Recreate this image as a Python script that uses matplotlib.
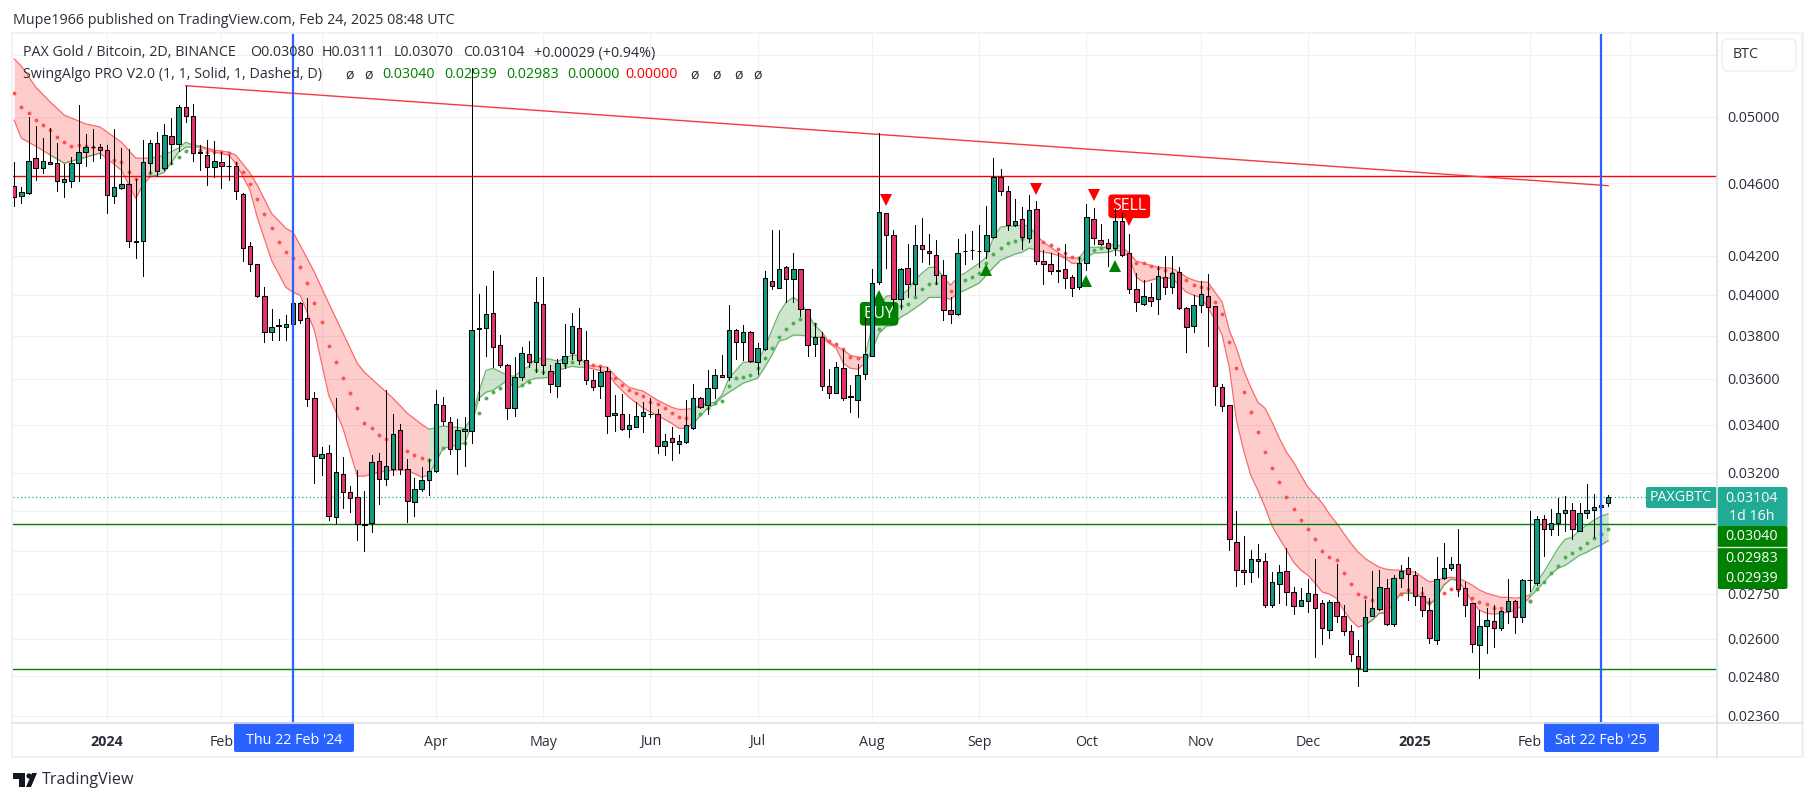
import matplotlib
matplotlib.use("Agg")
import matplotlib.pyplot as plt
from matplotlib.patches import Rectangle, FancyBboxPatch, Polygon, Circle

plt.rcParams["font.family"] = ["Open Sans", "DejaVu Sans"]

# PAXGBTC 2D candles
opens = [.04587,.04527,.04545,.04745,.04690,.04727,.04721,.04610,.04614,.04721,.04783,.04811,.04811,.04793,.04525,.04571,.04593,.04278,.04281,.04721,
.04841,.04687,.04881,.04829,.05059,.05003,.04782,.04767,.04692,.04727,.04700,.04702,.04541,.04250,.04155,.03996,.03820,.03847,.03844,.03854,
.03957,.03883,.03517,.03262,.03279,.03028,.03194,.03126,.03106,.03001,.03006,.03246,.03174,.03216,.03375,.03214,.03087,.03138,.03170,.03206,
.03486,.03411,.03299,.03371,.03373,.03835,.03839,.03912,.03754,.03663,.03473,.03610,.03712,.03677,.03953,.03638,.03569,.03672,.03717,.03839,
.03688,.03593,.03567,.03634,.03442,.03447,.03381,.03390,.03437,.03445,.03443,.03310,.03345,.03320,.03327,.03387,.03517,.03484,.03559,.03619,
.03609,.03829,.03771,.03820,.03677,.03738,.04072,.04035,.04144,.04081,.04129,.03929,.03762,.03792,.03570,.03537,.03651,.03522,.03508,.03622,
.03705,.04065,.04431,.04309,.03980,.04139,.04052,.04260,.04228,.04207,.04098,.03926,.03905,.04226,.04233,.04227,.04226,.04301,.04639,.04558,
.04363,.04396,.04295,.04456,.04175,.04160,.04124,.04129,.04088,.04040,.04165,.04401,.04287,.04266,.04239,.04385,.04213,.04027,.03955,.03987,
.03977,.04091,.04037,.04118,.03936,.03849,.03950,.03995,.03943,.03564,.03483,.02936,.02835,.02825,.02874,.02867,.02713,.02785,.02829,.02758,
.02709,.02727,.02748,.02720,.02627,.02723,.02673,.02624,.02543,.02495,.02675,.02698,.02769,.02649,.02806,.02839,.02814,.02741,.02696,.02597,
.02806,.02839,.02853,.02769,.02717,.02578,.02640,.02657,.02634,.02693,.02727,.02670,.02797,.02789,.03022,.02981,.03004,.03045,.03053,.02977,
.03042,.03053,.03068,.03080]
highs = [.04723,.04577,.05000,.04942,.04871,.04927,.04835,.04715,.04755,.05072,.04892,.04921,.04831,.04823,.04921,.04807,.04799,.04624,.04855,.04855,
.04904,.04955,.04994,.05072,.05199,.05080,.04825,.04859,.04849,.04782,.04765,.04725,.04545,.04274,.04157,.04038,.03928,.03880,.03899,.03973,
.03965,.03982,.03542,.03304,.03313,.03513,.03263,.03147,.03211,.03127,.03274,.03281,.03552,.03447,.03401,.03258,.03178,.03222,.03258,.03549,
.03520,.03430,.03422,.03430,.05313,.04003,.04043,.04120,.03803,.03670,.03700,.03749,.03775,.04091,.04091,.03662,.03693,.03855,.03912,.03936,
.03821,.03639,.03654,.03654,.03527,.03534,.03447,.03497,.03497,.03513,.03468,.03359,.03390,.03357,.03505,.03575,.03520,.03639,.03647,.03709,
.03948,.03834,.03850,.03822,.03764,.04120,.04341,.04337,.04146,.04213,.04134,.03931,.03859,.03818,.03644,.03677,.03732,.03571,.03670,.03891,
.04134,.04902,.04432,.04337,.04136,.04262,.04363,.04405,.04314,.04283,.04177,.03987,.04292,.04314,.04332,.04368,.04469,.04745,.04682,.04583,
.04509,.04465,.04531,.04497,.04230,.04213,.04213,.04262,.04100,.04195,.04481,.04459,.04370,.04292,.04456,.04431,.04314,.04111,.04077,.04060,
.04147,.04198,.04198,.04143,.03938,.03998,.04069,.04108,.03945,.03575,.03485,.03050,.02956,.02905,.02926,.02893,.02825,.02851,.02911,.02775,
.02771,.02803,.02872,.02728,.02728,.02856,.02713,.02645,.02595,.02728,.02830,.02833,.02803,.02815,.02851,.02881,.02831,.02775,.02734,.02879,
.02931,.02881,.02982,.02791,.02717,.02694,.02700,.02711,.02694,.02803,.02730,.02803,.03050,.03031,.03035,.03057,.03102,.03107,.03082,.03082,
.03155,.03118,.03120,.03111]
lows = [.04469,.04485,.04540,.04618,.04660,.04710,.04556,.04522,.04579,.04614,.04702,.04731,.04745,.04434,.04485,.04567,.04247,.04191,.04096,.04657,
.04643,.04676,.04715,.04791,.04969,.04729,.04676,.04591,.04637,.04573,.04618,.04510,.04173,.04121,.03990,.03768,.03779,.03779,.03782,.03842,
.03862,.03478,.03158,.03191,.03016,.03006,.03063,.03048,.02941,.02902,.02971,.03077,.03152,.03191,.03195,.03010,.03031,.03128,.03112,.03203,
.03397,.03276,.03195,.03228,.03322,.03505,.03705,.03654,.03654,.03422,.03435,.03594,.03654,.03631,.03624,.03541,.03520,.03648,.03693,.03668,
.03579,.03549,.03513,.03364,.03373,.03376,.03348,.03388,.03369,.03432,.03281,.03271,.03254,.03281,.03322,.03380,.03473,.03447,.03513,.03607,
.03594,.03693,.03688,.03677,.03621,.03735,.04028,.04033,.03962,.03965,.03894,.03705,.03705,.03552,.03515,.03535,.03508,.03454,.03432,.03600,
.03703,.04057,.04135,.03940,.03931,.03990,.04001,.04167,.04160,.04052,.03875,.03862,.03899,.04160,.04181,.04143,.04191,.04297,.04531,.04337,
.04359,.04235,.04274,.04160,.04054,.04104,.04065,.04032,.03994,.04027,.04125,.04262,.04258,.04147,.04203,.04198,.04010,.03920,.03947,.03945,
.03905,.04003,.04010,.03931,.03724,.03818,.03915,.03751,.03483,.03458,.02906,.02778,.02785,.02791,.02808,.02705,.02705,.02717,.02713,.02680,
.02707,.02688,.02541,.02584,.02601,.02655,.02613,.02529,.02450,.02495,.02675,.02694,.02645,.02641,.02775,.02730,.02713,.02675,.02587,.02581,
.02803,.02835,.02743,.02675,.02558,.02475,.02554,.02572,.02628,.02652,.02617,.02655,.02760,.02780,.02884,.02960,.02962,.02975,.02947,.02975,
.03026,.02953,.03026,.03070]
closes = [.04522,.04549,.04733,.04690,.04733,.04710,.04614,.04622,.04721,.04786,.04811,.04813,.04797,.04535,.04581,.04593,.04281,.04276,.04727,.04841,
.04670,.04885,.04829,.05061,.05003,.04780,.04780,.04692,.04733,.04698,.04698,.04553,.04244,.04155,.03994,.03820,.03844,.03850,.03854,.03957,
.03878,.03510,.03270,.03275,.03032,.03202,.03124,.03102,.03000,.02999,.03242,.03174,.03226,.03358,.03214,.03089,.03138,.03170,.03206,.03490,
.03417,.03299,.03375,.03379,.03829,.03833,.03904,.03749,.03665,.03473,.03610,.03721,.03675,.03965,.03665,.03575,.03672,.03707,.03849,.03688,
.03597,.03564,.03632,.03438,.03451,.03381,.03396,.03438,.03455,.03444,.03311,.03332,.03327,.03329,.03396,.03517,.03476,.03561,.03619,.03609,
.03829,.03771,.03820,.03682,.03740,.04083,.04045,.04134,.04081,.04129,.03931,.03757,.03792,.03568,.03537,.03656,.03515,.03520,.03619,.03712,
.04062,.04440,.04312,.03980,.04134,.04052,.04260,.04237,.04216,.04101,.03926,.03905,.04213,.04224,.04231,.04225,.04309,.04639,.04558,.04366,
.04390,.04301,.04451,.04173,.04158,.04121,.04122,.04086,.04032,.04165,.04407,.04297,.04264,.04239,.04385,.04205,.04027,.03962,.03992,.03970,
.04096,.04037,.04113,.03936,.03842,.03947,.04005,.03941,.03570,.03479,.02947,.02835,.02827,.02871,.02867,.02713,.02792,.02825,.02758,.02709,
.02730,.02752,.02703,.02634,.02723,.02673,.02624,.02549,.02505,.02670,.02700,.02772,.02649,.02806,.02829,.02818,.02741,.02696,.02601,.02803,
.02839,.02856,.02765,.02713,.02582,.02640,.02660,.02634,.02690,.02727,.02670,.02799,.02799,.03022,.02981,.03007,.03042,.03053,.02981,.03042,
.03053,.03068,.03075,.03104]

# indicator band, upper / lower edges at the bars listed
band_bars = [0,1,3,5,7,10,12,15,17,18,19,20,21,23,24,25,26,28,30,31,33,34,36,38,39,40,42,44,46,48,49,51,53,55,57,58,60,63,64,65,66,67,69,70,71,72,73,75,76,78,79,80,83,84,86,88,90,92,93,94,95,97,98,99,100,102,104,105,106,107,108,109,110,111,112,113,114,115,116,117,118,119,120,121,122,123,124,125,126,127,128,129,130,131,132,133,135,136,137,138,139,140,141,142,143,144,145,146,147,148,149,150,151,153,154,155,156,157,158,160,162,163,164,165,166,167,168,169,170,171,172,173,174,175,176,177,178,179,180,181,182,183,184,185,186,187,188,189,190,191,192,193,194,195,196,197,198,199,200,201,202,203,204,205,206,207,208,209,210,211,212,213,214,215,216,217,218,219,220,221,222,223]
band_upper = [.05375,.05328,.05189,.05095,.05010,.04955,.04936,.04843,.04747,.04747,.04747,.04753,.04765,.04807,.04843,.04825,.04819,.04795,.04783,.04765,.04659,.04589,.04430,.04348,.04326,.04257,.04115,.03958,.03812,.03671,.03630,.03571,.03514,.03448,.03401,.03380,.03393,.03384,.03427,.03540,.03639,.03648,.03616,.03612,.03639,.03657,.03694,.03690,.03680,.03708,.03708,.03662,.03653,.03616,.03562,.03545,.03505,.03474,.03465,.03465,.03470,.03492,.03496,.03527,.03603,.03676,.03676,.03741,.03826,.03909,.03963,.03987,.03963,.03909,.03850,.03817,.03770,.03751,.03732,.03708,.03699,.03699,.03840,.03938,.03993,.03998,.03998,.04023,.04074,.04110,.04140,.04140,.04089,.04048,.04089,.04110,.04161,.04193,.04299,.04354,.04359,.04359,.04365,.04359,.04310,.04272,.04246,.04219,.04193,.04188,.04188,.04241,.04246,.04246,.04267,.04246,.04214,.04172,.04161,.04140,.04135,.04115,.04089,.04074,.04064,.04064,.04013,.03963,.03826,.03741,.03639,.03562,.03496,.03470,.03409,.03342,.03284,.03243,.03191,.03143,.03112,.03081,.03039,.03005,.02967,.02930,.02898,.02875,.02858,.02843,.02836,.02833,.02833,.02829,.02826,.02808,.02791,.02797,.02804,.02808,.02804,.02794,.02780,.02763,.02752,.02745,.02738,.02738,.02735,.02738,.02745,.02791,.02826,.02868,.02912,.02945,.02952,.02978,.02997,.03016,.03031,.03040]
band_lower = [.04979,.04867,.04819,.04767,.04717,.04753,.04777,.04676,.04514,.04589,.04636,.04648,.04664,.04783,.04813,.04813,.04813,.04783,.04765,.04717,.04560,.04408,.04177,.04038,.04013,.03998,.03826,.03527,.03384,.03187,.03187,.03203,.03211,.03211,.03183,.03191,.03300,.03321,.03397,.03514,.03540,.03549,.03594,.03558,.03567,.03594,.03603,.03607,.03639,.03657,.03653,.03653,.03630,.03581,.03518,.03470,.03439,.03405,.03384,.03384,.03405,.03470,.03487,.03518,.03540,.03581,.03603,.03653,.03708,.03774,.03784,.03803,.03803,.03798,.03793,.03793,.03765,.03741,.03671,.03648,.03644,.03671,.03732,.03812,.03845,.03850,.03889,.03909,.03933,.03958,.03987,.03987,.03987,.03978,.04008,.04023,.04059,.04099,.04140,.04177,.04193,.04209,.04219,.04241,.04230,.04219,.04214,.04203,.04188,.04161,.04161,.04193,.04214,.04219,.04230,.04224,.04193,.04089,.04064,.04084,.04084,.04048,.04013,.03998,.03987,.03938,.03875,.03803,.03653,.03418,.03292,.03191,.03131,.03065,.02993,.02948,.02905,.02861,.02833,.02815,.02787,.02756,.02749,.02735,.02694,.02661,.02638,.02645,.02661,.02684,.02684,.02718,.02752,.02752,.02752,.02735,.02711,.02738,.02780,.02801,.02797,.02763,.02721,.02694,.02684,.02681,.02684,.02687,.02694,.02711,.02738,.02763,.02791,.02819,.02840,.02850,.02868,.02886,.02897,.02912,.02923,.02939]
band_spans = [(0,19,"r"),(19,26,"g"),(26,58,"r"),(58,80,"g"),(80,95,"r"),(95,113,"g"),(113,119,"r"),(119,130,"g"),(130,132,"r"),(132,143,"g"),(143,149,"r"),(149,155,"g"),(155,212,"r"),(212,223,"g")]
# stretches where the lower edge of a red band is drawn green
green_lower_spans = [(5,12),(189,202)]
# dots, one per bar
mid_dots = [.05151,.05061,.05023,.04979,.04948,.04917,.04873,.04843,.04819,.04825,.04819,.04813,.04807,.04753,.04735,.04723,.04664,.04624,.04664,.04659,
.04688,.04688,.04717,.04753,.04789,.04801,.04795,.04783,.04783,.04783,.04777,.04717,.04664,.04595,.04509,.04425,.04348,.04272,.04219,.04188,
.04140,.04059,.03958,.03865,.03751,.03676,.03603,.03536,.03470,.03405,.03384,.03355,.03338,.03321,.03313,.03288,.03271,.03259,.03251,.03280,
.03300,.03304,.03321,.03321,.03388,.03448,.03514,.03540,.03558,.03571,.03567,.03571,.03585,.03639,.03630,.03625,.03639,.03662,.03676,.03685,
.03671,.03662,.03657,.03616,
.03603,.03571,.03549,.03536,.03522,.03496,.03487,.03470,.03448,.03431,.03426,.03431,.03444,.03470,.03492,.03501,.03567,.03603,.03607,.03616,
.03648,.03694,.03741,.03793,.03831,.03860,.03880,.03860,.03855,.03793,.03774,.03760,.03736,.03699,.03694,.03685,.03779,.03831,.03899,.03933,
.03943,.03953,.03987,.04028,.04054,.04059,.04038,.04018,.04048,.04074,.04089,.04110,.04161,.04209,.04241,.04267,.04278,.04289,.04294,.04294,
.04272,.04257,.04235,.04214,.04193,.04188,.04203,.04230,.04241,.04241,.04241,.04241,.04203,.04161,.04161,.04146,.04135,.04125,.04110,.04099,
.04074,.04048,.04038,.04033,
.03963,.03904,.03770,.03648,.03540,.03452,.03367,.03284,.03219,.03163,.03104,.03058,.03016,.02982,.02945,.02901,.02879,.02868,.02822,.02783,
.02749,.02738,.02728,.02735,.02745,.02745,.02749,.02763,.02763,.02752,.02721,.02738,.02752,.02766,.02763,.02745,.02735,.02721,.02714,.02701,
.02701,.02711,.02711,.02718,.02724,.02766,.02791,.02822,.02847,.02879,.02894,.02912,.02930,.02948,.02963,.02983]

sell_bars = [122, 143, 151, 156]
sell_prices = [.04503, .04569, .04534, .04395]
buy_bars = [121, 136, 150, 154]
buy_prices = [.03993, .04125, .04069, .04146]

res_level = 0.04640
sup_level = 0.03000
low_level = 0.02504
last_price = 0.03104
trend_bars = [24, 223]
trend_prices = [0.05198, 0.04586]
cursor_bars = [39, 222]

price_ticks = [.054,.05,.046,.042,.04,.038,.036,.034,.032,.0305,.029,.0275,.026,.0248,.0236]
price_labels = ["","0.05000","0.04600","0.04200","0.04000","0.03800","0.03600","0.03400","0.03200","","","0.02750","0.02600","0.02480","0.02360"]
date_ticks = [13,29,43,59,74,89,104,120,135,150,166,181,196,212,226]
# Mar is hidden behind the crosshair date tags
date_labels = ["2024","Feb","","Apr","May","Jun","Jul","Aug","Sep","Oct","Nov","Dec","2025","Feb",""]

W, H = 1815, 801
UP, DOWN = "#129c84", "#e8316c"
BAND = {"r": ("#ff0000", "#f9696c"), "g": ("#008000", "#69b26c")}
DOT = {"r": "#ff5252", "g": "#4caf50"}
GRID = "#f0f1f5"
TEXT = "#2a2e39"

fig = plt.figure(figsize=(W / 100, H / 100), dpi=100)
ax = fig.add_axes([13 / W, 1 - 722 / H, (1717.5 - 13) / W, (722 - 33) / H])
ax.set_yscale("log")
ax.set_xlim(-0.17, 238.3)
ax.set_ylim(0.02342, 0.05553)
for s in ax.spines.values():
    s.set_visible(False)
ax.yaxis.tick_right()
ax.minorticks_off()
ax.set_yticks(price_ticks, price_labels, fontsize=10.3, color=TEXT)
ax.set_xticks(date_ticks, date_labels, fontsize=10.3, color=TEXT)
ax.yaxis.set_tick_params(which="minor", length=0, labelright=False)
ax.tick_params(axis="y", length=0, pad=7)
ax.tick_params(axis="x", length=0, pad=9)
for lab in ax.get_xticklabels():
    if lab.get_text() in ("2024", "2025"):
        lab.set_fontweight("bold")
ax.grid(True, color=GRID, lw=0.8, zorder=0)
ax.set_axisbelow(True)

# band fill and dots
for start, end, c in band_spans:
    idx = [k for k, b in enumerate(band_bars) if start <= b <= end]
    xs = [band_bars[k] for k in idx]
    up = [band_upper[k] for k in idx]
    lo = [band_lower[k] for k in idx]
    fill, edge = BAND[c]
    ax.fill_between(xs, lo, up, color=fill, alpha=0.2, lw=0, zorder=1)
    ax.plot(xs, up, color=edge, lw=0.9, zorder=1.2)
    ax.plot(xs, lo, color=edge, lw=0.9, zorder=1.2)
    bars = list(range(start, end + 1))
    ax.plot(bars, [mid_dots[b] for b in bars], ls="none", marker="o", ms=2.8, mew=0,
            color=DOT[c], zorder=1.3)
for start, end in green_lower_spans:
    idx = [k for k, b in enumerate(band_bars) if start <= b <= end]
    ax.plot([band_bars[k] for k in idx], [band_lower[k] for k in idx],
            color=BAND["g"][1], lw=0.9, zorder=1.25)

# levels
ax.axhline(last_price, color="#22ab94", lw=0.9, ls=(0, (1, 2)), zorder=1.5)
ax.axhline(res_level, color="#ff0000", lw=1.0, zorder=1.6)
ax.axhline(sup_level, color="#008000", lw=1.0, zorder=1.6)
ax.axhline(low_level, color="#008000", lw=1.0, zorder=1.6)
ax.plot(trend_bars, trend_prices, color="#f5383c", lw=1.0, zorder=1.6)

# buy / sell tags sit under the candles
ax.text(121, .03906, "BUY", color="white", fontsize=11.5, ha="center", va="center", zorder=2,
        bbox=dict(boxstyle="round,pad=0.24", fc="#008000", ec="none"))
ax.text(156, .04469, "SELL", color="white", fontsize=11.5, ha="center", va="center", zorder=2,
        bbox=dict(boxstyle="round,pad=0.24", fc="#ff0000", ec="none"))
ax.plot(sell_bars, sell_prices, ls="none", marker="v", ms=8.5, mew=0, color="#ff0000", zorder=2.1)
ax.plot(buy_bars, buy_prices, ls="none", marker="^", ms=8.5, mew=0, color="#008000", zorder=2.1)

# candles
for i in range(len(opens)):
    ax.vlines(i, lows[i], highs[i], color="black", lw=0.68, antialiased=False, zorder=3)
    top, bot = max(opens[i], closes[i]), min(opens[i], closes[i])
    face = UP if closes[i] >= opens[i] else DOWN
    ax.bar(i, top - bot, bottom=bot, width=0.62, color=face, edgecolor="black", lw=0.75, zorder=3.1)

for b in cursor_bars:
    ax.axvline(b, color="#2962ff", lw=1.6, zorder=4)

# page chrome in pixel coordinates
ov = fig.add_axes([0, 0, 1, 1], zorder=5)
ov.set_xlim(0, W)
ov.set_ylim(H, 0)
ov.axis("off")
ov.patch.set_alpha(0)

for x0, y0, x1, y1 in [(11, 32, 1803, 34), (11, 755.5, 1803, 758), (11, 32, 13, 758), (1801.5, 32, 1804, 758)]:
    ov.add_patch(Rectangle((x0, y0), x1 - x0, y1 - y0, fc="#f1f2f5", ec="none"))
ov.plot([13, 1802], [722.5, 722.5], color="#dfe1e6", lw=1.2)
ov.plot([1717.5, 1717.5], [33, 757], color="#dfe1e6", lw=1.2)


def label(x, y, s, color=TEXT, size=10.3, ha="left", weight="normal"):
    ov.text(x, y, s, color=color, fontsize=size, ha=ha, va="center", fontweight=weight)


def box(x0, y0, x1, y1, color, r=2):
    ov.add_patch(FancyBboxPatch((x0 + r, y0 + r), x1 - x0 - 2 * r, y1 - y0 - 2 * r,
                                boxstyle=f"round,pad={r},rounding_size={r}", fc=color, ec="none"))


label(13, 20, "Mupe1966 published on TradingView.com, Feb 24, 2025 08:48 UTC", size=10.3)
label(23, 53, "PAX Gold / Bitcoin, 2D, BINANCE")
for x, s in [(250, "O0.03080"), (322, "H0.03111"), (394, "L0.03070"), (463, "C0.03104"), (534, "+0.00029 (+0.94%)")]:
    label(x, 53, s)
label(23, 75, "SwingAlgo PRO V2.0 (1, 1, Solid, 1, Dashed, D)")
for x in [345, 364, 690, 712, 734, 753]:
    label(x, 75, "\u00f8")
for x, s, c in [(382, "0.03040", "#008000"), (444, "0.02939", "#008000"), (506, "0.02983", "#008000"),
                (567, "0.00000", "#008000"), (625, "0.00000", "#ff0000")]:
    label(x, 75, s, color=c)

ov.add_patch(FancyBboxPatch((1724, 41), 70, 28, boxstyle="round,pad=2,rounding_size=6", fc="white", ec="#eceef2", lw=1))
label(1733, 55, "BTC", size=10.3)

# last price and indicator value tags
box(1646, 487, 1717, 508, "#22ab94")
label(1681, 497.5, "PAXGBTC", color="white", ha="center")
box(1717.5, 487, 1787.5, 527, "#22ab94")
label(1752, 498, "0.03104", color="white", ha="center")
label(1752, 516, "1d 16h", color="white", ha="center")
box(1717.5, 526, 1787.5, 589, "#008000")
ov.plot([1717.5, 1787.5], [546.5, 546.5], color="#d7e8d7", lw=1)
for y, s in [(536, "0.03040"), (558, "0.02983"), (578, "0.02939")]:
    label(1752, y, s, color="white", ha="center")

# crosshair date tags
box(234, 722, 354, 752, "#2962ff")
label(294, 740, "Thu 22 Feb '24", color="white", ha="center")
box(1544, 722, 1659, 752, "#2962ff")
label(1601, 740, "Sat 22 Feb '25", color="white", ha="center")

# logo
ov.add_patch(Polygon([(13, 773), (25, 773), (25, 787), (19, 787), (19, 779), (13, 779)], fc="#131722", ec="none"))
ov.add_patch(Circle((29, 776), 2.6, fc="#131722", ec="none"))
ov.add_patch(Polygon([(31, 787), (37, 773), (32, 773), (26, 787)], fc="#131722", ec="none"))
label(42, 780, "TradingView", color="#2a2e39", size=11.6)

fig.savefig("out.png", dpi=100)
